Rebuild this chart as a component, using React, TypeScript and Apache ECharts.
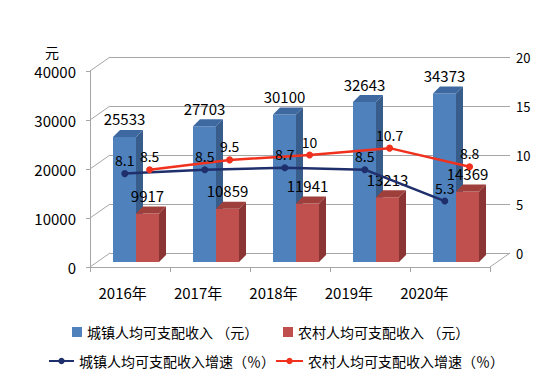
import React, { useEffect, useRef } from "react";
import * as echarts from "echarts";

const categories = ["2016年", "2017年", "2018年", "2019年", "2020年"];
const urbanIncome = [25533, 27703, 30100, 32643, 34373];
const ruralIncome = [9917, 10859, 11941, 13213, 14369];
const urbanGrowth = [8.1, 8.5, 8.7, 8.5, 5.3];
const ruralGrowth = [8.5, 9.5, 10, 10.7, 8.8];
const incomeAxis = { min: 0, max: 40000, interval: 10000 };
const growthAxis = { min: 0, max: 20, interval: 5 };

const NAME_U = "城镇人均可支配收入 （元）";
const NAME_R = "农村人均可支配收入 （元）";
const NAME_UG = "城镇人均可支配收入增速（％）";
const NAME_RG = "农村人均可支配收入增速（％）";

const FONT = '"Noto Sans CJK SC", "Noto Sans", sans-serif';
const GRID_C = "#a6a6a6";

function bar3D(side: "left" | "right", front: string, sideC: string, topC: string) {
  return (params: any, api: any) => {
    const i = api.value(0);
    const v = api.value(1);
    const top = api.coord([i, v]);
    const base = api.coord([i, 0]);
    const band = api.size([1, 0])[0];
    const w = band * 0.2875;
    const cx = top[0];
    const x0 = side === "left" ? cx - w : cx;
    const x1 = x0 + w;
    const yT = top[1];
    const yB = base[1];
    const dx = 7;
    const dy = 7;
    return {
      type: "group",
      children: [
        { type: "rect", shape: { x: x0, y: yT, width: w, height: yB - yT }, style: { fill: front } },
        {
          type: "polygon",
          shape: { points: [[x1, yT], [x1 + dx, yT - dy], [x1 + dx, yB - dy], [x1, yB]] },
          style: { fill: sideC },
        },
        {
          type: "polygon",
          shape: { points: [[x0, yT], [x0 + dx, yT - dy], [x1 + dx, yT - dy], [x1, yT]] },
          style: { fill: topC },
        },
        {
          type: "text",
          z2: 100,
          style: {
            text: String(v),
            x: x0 + w / 2,
            y: yT - 18,
            align: "center",
            verticalAlign: "middle",
            fontSize: 15,
            fontFamily: FONT,
            fill: "#000",
          },
        },
      ],
    };
  };
}

export default function App() {
  const ref = useRef<HTMLDivElement>(null);
  useEffect(() => {
    if (!ref.current) return;
    const chart = echarts.init(ref.current, null, { renderer: "svg" });

    const connectors: any[] = [];
    for (let k = 0; k <= 4; k++) {
      connectors.push({
        type: "line",
        shape: { x1: 90, y1: 267 - k * 49, x2: 110, y2: 253 - k * 49 },
        style: { stroke: GRID_C, lineWidth: 1 },
        z: 0,
      });
    }
    connectors.push({
      type: "line",
      shape: { x1: 490, y1: 267, x2: 510, y2: 253 },
      style: { stroke: GRID_C, lineWidth: 1 },
      z: 0,
    });
    connectors.push({
      type: "text",
      style: { text: "元", x: 52, y: 52, align: "center", verticalAlign: "middle", fontSize: 14, fontFamily: FONT, fill: "#000" },
    });

    const hiddenCat = (gi: number) => ({ type: "category", data: categories, gridIndex: gi, show: false });
    const legendText = { fontSize: 14, fontFamily: FONT, color: "#000" };

    chart.setOption({
      animation: false,
      backgroundColor: "#fff",
      textStyle: { fontFamily: FONT },
      grid: [
        { left: 110, top: 57, width: 400, height: 196 },
        { left: 90, top: 71, width: 400, height: 196 },
        { left: 96, top: 66, width: 400, height: 196 },
        { left: 96, top: 57, width: 400, height: 196 },
        { left: 85, top: 71, width: 377, height: 196 },
      ],
      xAxis: [
        hiddenCat(0),
        {
          type: "category",
          data: categories,
          gridIndex: 1,
          axisLine: { lineStyle: { color: GRID_C, width: 1 } },
          axisTick: { show: true, length: 5, lineStyle: { color: GRID_C } },
          axisLabel: { show: false },
        },
        hiddenCat(2),
        { type: "value", gridIndex: 3, min: -0.5, max: 4.5, show: false },
        {
          type: "category",
          data: categories,
          gridIndex: 4,
          axisLine: { show: false },
          axisTick: { show: false },
          axisLabel: { margin: 18, fontSize: 15, color: "#000", fontFamily: FONT },
        },
      ],
      yAxis: [
        {
          type: "value",
          gridIndex: 0,
          position: "right",
          ...growthAxis,
          axisLine: { show: false },
          axisTick: { show: false },
          splitLine: { lineStyle: { color: GRID_C, width: 1 } },
          axisLabel: { margin: 6, fontSize: 13, color: "#000", fontFamily: FONT },
        },
        {
          type: "value",
          gridIndex: 1,
          position: "left",
          ...incomeAxis,
          axisLine: { show: true, lineStyle: { color: GRID_C, width: 1 } },
          axisTick: { show: true, length: 4, lineStyle: { color: GRID_C } },
          splitLine: { show: false },
          axisLabel: {
            margin: 14,
            fontSize: 15,
            color: "#000",
            fontFamily: FONT,
            formatter: (v: number) => String(v),
          },
        },
        { type: "value", gridIndex: 2, ...incomeAxis, show: false, splitLine: { show: false } },
        { type: "value", gridIndex: 3, ...growthAxis, show: false, splitLine: { show: false } },
        { type: "value", gridIndex: 4, show: false, splitLine: { show: false } },
      ],
      legend: [
        { data: [NAME_U], left: 67, top: 320, icon: "rect", itemWidth: 10, itemHeight: 10, textStyle: legendText },
        { data: [NAME_R], left: 278, top: 320, icon: "rect", itemWidth: 10, itemHeight: 10, textStyle: legendText },
        { data: [NAME_UG], left: 43, top: 349, itemWidth: 25, itemHeight: 8, textStyle: legendText },
        { data: [NAME_RG], left: 270, top: 349, itemWidth: 27, itemHeight: 8, textStyle: legendText },
      ],
      graphic: connectors,
      series: [
        {
          name: NAME_U,
          type: "custom",
          xAxisIndex: 2,
          yAxisIndex: 2,
          itemStyle: { color: "#4f81bd" },
          renderItem: bar3D("left", "#4f81bd", "#385d8a", "#3d69a0"),
          data: urbanIncome.map((v, i) => [i, v]),
          z: 2,
        },
        {
          name: NAME_R,
          type: "custom",
          xAxisIndex: 2,
          yAxisIndex: 2,
          itemStyle: { color: "#c0504d" },
          renderItem: bar3D("right", "#c0504d", "#8a3533", "#9e3f3c"),
          data: ruralIncome.map((v, i) => [i, v]),
          z: 2,
        },
        {
          name: NAME_UG,
          type: "line",
          xAxisIndex: 3,
          yAxisIndex: 3,
          data: urbanGrowth.map((v, i) => [i - 0.14, v]),
          symbol: "circle",
          symbolSize: 7,
          lineStyle: { color: "#1f2f6b", width: 2.5 },
          itemStyle: { color: "#1f2f6b" },
          label: { show: true, position: "top", distance: 3, fontSize: 14, color: "#000", fontFamily: FONT },
          z: 5,
        },
        {
          name: NAME_RG,
          type: "line",
          xAxisIndex: 3,
          yAxisIndex: 3,
          data: ruralGrowth.map((v, i) => [i + 0.17, v]),
          symbol: "circle",
          symbolSize: 7,
          lineStyle: { color: "#f0311e", width: 2.5 },
          itemStyle: { color: "#f0311e" },
          label: { show: true, position: "top", distance: 3, fontSize: 14, color: "#000", fontFamily: FONT },
          z: 5,
        },
      ],
    });
    return () => chart.dispose();
  }, []);
  return (
    <div
      ref={ref}
      style={{ position: "fixed", left: 0, top: 0, width: 554, height: 392, background: "#fff" }}
    />
  );
}
